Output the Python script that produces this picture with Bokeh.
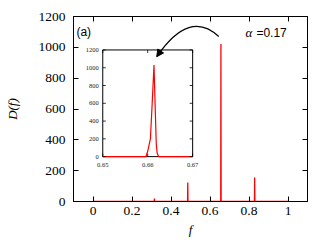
from bokeh.plotting import figure
from bokeh.models import Range1d, LinearAxis, CustomJSTickFormatter, FixedTicker, Arrow, NormalHead, Label
from bokeh.core.properties import value
from bokeh.embed import file_html
from bokeh.resources import INLINE

# ---- data ----
f_main = [0.0, 0.314, 0.315, 0.316, 0.485, 0.486, 0.487, 0.655, 0.656, 0.657, 0.828, 0.829, 0.830, 1.0]
d_main = [0, 0, 19, 0, 0, 123, 0, 0, 1021, 0, 0, 155, 0, 0]

f_inset = [0.650, 0.6596, 0.6600, 0.6603, 0.6606, 0.6610, 0.6614, 0.6617, 0.6619, 0.6621, 0.6624, 0.6626, 0.670]
d_inset = [0, 0, 60, 130, 200, 600, 1030, 500, 150, 40, 5, 0, 0]

x_ticks = [0, 0.2, 0.4, 0.6, 0.8, 1]
y_ticks = [0, 200, 400, 600, 800, 1000, 1200]
inset_x_ticks = [0.65, 0.66, 0.67]
inset_x_labels = ["0.65", "0.66", "0.67"]
inset_y_ticks = [0, 200, 400, 600, 800, 1000, 1200]
inset_y_labels = ["0", "200", "400", "600", "800", "1000", "1200"]

SERIF = "Liberation Serif"
SANS = "Liberation Sans"

p = figure(frame_width=234, frame_height=185, x_range=(-0.1, 1.1), y_range=(0, 1200),
           output_backend="svg", toolbar_location=None,
           min_border_left=73, min_border_right=24, min_border_top=16, min_border_bottom=42,
           x_axis_label="f", y_axis_label="D(f)")
p.xgrid.visible = False
p.ygrid.visible = False
p.outline_line_color = "black"
p.outline_line_width = 1

fmt = CustomJSTickFormatter(code="return Number(tick.toFixed(2)).toString()")
p.xaxis.ticker = FixedTicker(ticks=x_ticks)
p.xaxis.formatter = fmt
p.yaxis.ticker = FixedTicker(ticks=y_ticks)

for ax in (p.xaxis[0], p.yaxis[0]):
    ax.major_tick_in = 5
    ax.major_tick_out = 0
    ax.minor_tick_line_color = None
    ax.axis_line_color = "black"
    ax.major_tick_line_color = "black"
    ax.major_label_text_font = SERIF
    ax.major_label_text_font_size = "13.5px"
    ax.major_label_text_color = "black"
    ax.axis_label_text_font = SERIF
    ax.axis_label_text_font_size = "13px"
    ax.axis_label_text_font_style = "italic"
    ax.axis_label_text_color = "black"

p.xaxis.major_label_standoff = 5
p.xaxis.axis_label_standoff = 4
p.yaxis.major_label_standoff = 8
p.yaxis.axis_label_standoff = 16

blank = CustomJSTickFormatter(code="return ''")
top = LinearAxis(ticker=FixedTicker(ticks=x_ticks), formatter=blank, major_tick_in=5, major_tick_out=0,
                 minor_tick_line_color=None, major_label_standoff=0, major_label_text_font_size="1px")
right = LinearAxis(ticker=FixedTicker(ticks=y_ticks), formatter=blank, major_tick_in=5, major_tick_out=0,
                   minor_tick_line_color=None, major_label_standoff=0, major_label_text_font_size="1px")
p.add_layout(top, "above")
p.add_layout(right, "right")

# main data
p.line(f_main, d_main, line_color="red", line_width=1.3)

# ---- inset ----
inset_xr = (0.65, 0.67)
inset_yr = (0, 1200)
sub = p.subplot(x_source=Range1d(*inset_xr), y_source=Range1d(*inset_yr),
                x_target=Range1d(0.05, 0.511), y_target=Range1d(291, 983))
sub.quad(left=[inset_xr[0]], right=[inset_xr[1]], bottom=[inset_yr[0]], top=[inset_yr[1]],
         fill_color="white", line_color="black", line_width=1)
sub.line(f_inset, d_inset, line_color="red", line_width=1.2)
sub.ray(x=inset_x_ticks, y=[inset_yr[0]] * 3, length=3, length_units="screen", angle=90,
        angle_units="deg", line_color="black", line_width=0.8)
sub.ray(x=inset_x_ticks, y=[inset_yr[1]] * 3, length=3, length_units="screen", angle=-90,
        angle_units="deg", line_color="black", line_width=0.8)
sub.ray(x=[inset_xr[0]] * 7, y=inset_y_ticks, length=3, length_units="screen", angle=0,
        angle_units="deg", line_color="black", line_width=0.8)
sub.ray(x=[inset_xr[1]] * 7, y=inset_y_ticks, length=3, length_units="screen", angle=180,
        angle_units="deg", line_color="black", line_width=0.8)
sub.text(x=inset_x_ticks, y=[inset_yr[0]] * 3, text=inset_x_labels, text_align="center",
         text_baseline="top", y_offset=6, text_font=value(SERIF), text_font_size="6.5px",
         text_color="#222222")
sub.text(x=[inset_xr[0]] * 7, y=inset_y_ticks, text=inset_y_labels, text_align="right",
         text_baseline="middle", x_offset=-4, text_font=value(SERIF), text_font_size="6.5px",
         text_color="#222222")

# ---- curved arrow ----
p.quadratic(x0=[0.645], y0=[1070], x1=[0.330], y1=[945], cx=[0.496], cy=[1249],
            line_color="black", line_width=1.2)
p.add_layout(Arrow(end=NormalHead(size=7, fill_color="black", line_color="black"),
                   x_start=0.3436, y_start=970, x_end=0.3267, y_end=939,
                   line_color="black", line_width=1))

# ---- annotations ----
p.add_layout(Label(x=-0.085, y=1101, text="(a)", text_font=SANS, text_font_size="12px",
                   text_baseline="middle", text_color="black"))
p.add_layout(Label(x=0.782, y=1094, text="α", text_font=SERIF, text_font_style="italic",
                   text_font_size="13px", text_baseline="middle", text_color="black"))
p.add_layout(Label(x=0.838, y=1094, text="=0.17", text_font=SANS, text_font_size="12px",
                   text_baseline="middle", text_color="black"))

open("out.html", "w").write(file_html(p, INLINE))
